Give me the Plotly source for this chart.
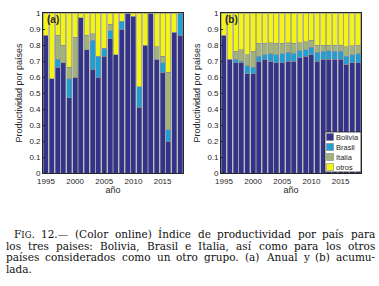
import glob
import os
import struct
import plotly.graph_objects as go

years = list(range(1995, 2019))

# (a) Anual
a_bolivia = [0.86, 0.59, 0.66, 0.69, 0.47, 0.60, 0.97, 0.77, 0.65, 0.60, 0.73, 0.84,
             0.74, 0.90, 1.00, 0.98, 0.41, 0.80, 1.00, 0.71, 0.63, 0.20, 0.88, 0.86]
a_brasil = [0.00, 0.00, 0.05, 0.00, 0.12, 0.00, 0.00, 0.00, 0.18, 0.13, 0.05, 0.05,
            0.00, 0.05, 0.00, 0.00, 0.13, 0.00, 0.00, 0.00, 0.06, 0.07, 0.00, 0.14]
a_italia = [0.00, 0.00, 0.15, 0.11, 0.07, 0.25, 0.00, 0.09, 0.04, 0.00, 0.00, 0.04,
            0.00, 0.00, 0.00, 0.00, 0.00, 0.00, 0.00, 0.08, 0.04, 0.36, 0.00, 0.00]
a_otros = [0.14, 0.41, 0.14, 0.20, 0.34, 0.15, 0.03, 0.14, 0.13, 0.27, 0.22, 0.07,
           0.26, 0.05, 0.00, 0.02, 0.46, 0.20, 0.00, 0.21, 0.27, 0.37, 0.12, 0.00]

# (b) Acumulada
b_bolivia = [0.86, 0.71, 0.69, 0.69, 0.62, 0.62, 0.70, 0.71, 0.70, 0.69, 0.69, 0.70,
             0.70, 0.72, 0.73, 0.74, 0.70, 0.71, 0.71, 0.71, 0.71, 0.68, 0.69, 0.69]
b_brasil = [0.00, 0.00, 0.02, 0.01, 0.05, 0.04, 0.03, 0.03, 0.045, 0.05, 0.055, 0.055,
            0.05, 0.045, 0.04, 0.045, 0.055, 0.05, 0.055, 0.05, 0.05, 0.05, 0.05, 0.055]
b_italia = [0.00, 0.00, 0.05, 0.07, 0.07, 0.10, 0.08, 0.07, 0.07, 0.07, 0.065, 0.06,
            0.06, 0.05, 0.05, 0.045, 0.045, 0.04, 0.035, 0.04, 0.04, 0.06, 0.055, 0.055]
b_otros = [round(1 - x - y - z, 3) for x, y, z in zip(b_bolivia, b_brasil, b_italia)]

series_names = ["Bolivia", "Brasil", "Italia", "otros"]
colors = ["#33338c", "#1e9fd6", "#a1b378", "#f4f414"]

y_ticks = [0, 0.1, 0.2, 0.3, 0.4, 0.5, 0.6, 0.7, 0.8, 0.9, 1]
y_tick_labels = ["0", "0.1", "0.2", "0.3", "0.4", "0.5", "0.6", "0.7", "0.8", "0.9", "1"]
x_ticks = [1995, 2000, 2005, 2010, 2015]

caption_lines = [
    "FIG. 12.— (Color online) Índice de productividad por país para",
    "los tres paises: Bolivia, Brasil e Italia, así como para los otros",
    "países considerados como un otro grupo. (a) Anual y (b) acumu-",
    "lada.",
]

W, H = 379, 286
def px_x(p): return p / W
def px_y(p): return (H - p) / H

CAP_FONT = "DejaVu Serif"
CAP_SIZE = 10.5
SC_SIZE = 8.5


# ---- text width measurement from the installed font file (for justification)
def make_measure():
    paths = glob.glob("/usr/share/fonts/**/DejaVuSerif.ttf", recursive=True)
    paths += glob.glob("/usr/local/share/fonts/**/DejaVuSerif.ttf", recursive=True)
    paths = [p for p in paths if os.path.exists(p)]
    try:
        data = open(paths[0], "rb").read()
        ntab = struct.unpack(">H", data[4:6])[0]
        tabs = {}
        for i in range(ntab):
            tag, _, off, ln = struct.unpack(">4sIII", data[12 + 16 * i:28 + 16 * i])
            tabs[tag.decode("latin1")] = off
        upm = struct.unpack(">H", data[tabs["head"] + 18:tabs["head"] + 20])[0]
        nhm = struct.unpack(">H", data[tabs["hhea"] + 34:tabs["hhea"] + 36])[0]
        hm = tabs["hmtx"]
        adv = [struct.unpack(">H", data[hm + 4 * i:hm + 4 * i + 2])[0] for i in range(nhm)]
        cm = tabs["cmap"]
        nsub = struct.unpack(">H", data[cm + 2:cm + 4])[0]
        so = None
        for i in range(nsub):
            pid, eid, off = struct.unpack(">HHI", data[cm + 4 + 8 * i:cm + 12 + 8 * i])
            if struct.unpack(">H", data[cm + off:cm + off + 2])[0] == 4 and (pid == 3 or so is None):
                so = cm + off
        seg2 = struct.unpack(">H", data[so + 6:so + 8])[0]
        seg = seg2 // 2
        ends = struct.unpack(">%dH" % seg, data[so + 14:so + 14 + seg2])
        st_o = so + 16 + seg2
        starts = struct.unpack(">%dH" % seg, data[st_o:st_o + seg2])
        de_o = st_o + seg2
        deltas = struct.unpack(">%dh" % seg, data[de_o:de_o + seg2])
        ro_o = de_o + seg2
        ros = struct.unpack(">%dH" % seg, data[ro_o:ro_o + seg2])

        def gid(c):
            for i in range(seg):
                if ends[i] >= c:
                    if starts[i] > c:
                        return 0
                    if ros[i] == 0:
                        return (c + deltas[i]) & 0xFFFF
                    a = ro_o + 2 * i + ros[i] + 2 * (c - starts[i])
                    g = struct.unpack(">H", data[a:a + 2])[0]
                    return (g + deltas[i]) & 0xFFFF if g else 0
            return 0

        def measure(s, size):
            return sum(adv[min(gid(ord(ch)), nhm - 1)] for ch in s) * size / upm
        measure("a", 10)
        return measure
    except Exception:
        return lambda s, size: len(s) * 0.58 * size


measure = make_measure()


def word_markup(w):
    if w == "FIG.":
        return "F<span style='font-size:%spx'>IG</span>." % SC_SIZE, \
            measure("F", CAP_SIZE) + measure("IG", SC_SIZE) + measure(".", CAP_SIZE)
    return w, measure(w, CAP_SIZE)


fig = go.Figure()
panels = [("x", "y", [a_bolivia, a_brasil, a_italia, a_otros]),
          ("x2", "y2", [b_bolivia, b_brasil, b_italia, b_otros])]
for xa, ya, data in panels:
    for name, vals, col in zip(series_names, data, colors):
        fig.add_trace(go.Bar(x=years, y=vals, name=name, xaxis=xa, yaxis=ya,
                             marker=dict(color=col, line=dict(color="#909090", width=0.6)),
                             showlegend=False))

dark = "#262626"
sans = "Liberation Sans, Arial"
tickfont = dict(family=sans, size=8, color=dark)
axis_common = dict(showline=True, linecolor=dark, linewidth=0.8, mirror=True,
                   ticks="inside", ticklen=2, tickcolor=dark, showgrid=False,
                   zeroline=False, tickfont=tickfont, automargin=False)
title_font = dict(family=sans, size=9, color=dark)

fig.update_layout(
    width=W, height=H, margin=dict(l=0, r=0, t=0, b=0, autoexpand=False),
    paper_bgcolor="white", plot_bgcolor="white",
    barmode="stack", bargap=0.14, showlegend=False,
    xaxis=dict(domain=[px_x(43), px_x(183)], range=[1994.5, 2018.5], tickvals=x_ticks,
               title=dict(text="año", font=title_font, standoff=2), **axis_common),
    yaxis=dict(domain=[px_y(173), px_y(13)], range=[0, 1], tickvals=y_ticks, ticktext=y_tick_labels,
               title=dict(text="Productividad por países", font=title_font, standoff=5), **axis_common),
    xaxis2=dict(domain=[px_x(221), px_x(361)], range=[1994.5, 2018.5], tickvals=x_ticks, anchor="y2",
                title=dict(text="año", font=title_font, standoff=2), **axis_common),
    yaxis2=dict(domain=[px_y(173), px_y(13)], range=[0, 1], tickvals=y_ticks, ticktext=y_tick_labels, anchor="x2",
                title=dict(text="Productividad por países", font=title_font, standoff=5), **axis_common),
)

# legend box (panel b)
fig.add_shape(type="rect", xref="paper", yref="paper",
              x0=px_x(325), x1=px_x(361), y0=px_y(172), y1=px_y(132),
              fillcolor="white", line=dict(color=dark, width=0.8), layer="above")
leg_y = [137, 147, 157, 167]
for name, col, yy in zip(series_names, colors, leg_y):
    fig.add_shape(type="rect", xref="paper", yref="paper",
                  x0=px_x(326.5), x1=px_x(333.5), y0=px_y(yy + 3.5), y1=px_y(yy - 3.5),
                  fillcolor=col, line=dict(color="#707070", width=0.5), layer="above")
    fig.add_annotation(text=name, xref="paper", yref="paper", x=px_x(335), y=px_y(yy),
                       xanchor="left", yanchor="middle", showarrow=False, borderpad=0,
                       font=dict(family=sans, size=7.5, color=dark))

fig.add_annotation(text="<b>(a)</b>", xref="paper", yref="paper", x=px_x(45), y=px_y(19),
                   xanchor="left", yanchor="middle", showarrow=False,
                   font=dict(family=sans, size=10, color=dark))
fig.add_annotation(text="<b>(b)</b>", xref="paper", yref="paper", x=px_x(223), y=px_y(19),
                   xanchor="left", yanchor="middle", showarrow=False,
                   font=dict(family=sans, size=10, color=dark))

# caption, justified word by word
left_starts = [13, 5, 5, 5]
right_edge = 374
line_y = [233.6, 246.2, 257.4, 268.6]
space_w = measure(" ", CAP_SIZE)
for li, (line, sx, yy) in enumerate(zip(caption_lines, left_starts, line_y)):
    words = [word_markup(w) for w in line.split(" ")]
    total = sum(w for _, w in words)
    last = li == len(caption_lines) - 1
    gap = space_w if (last or len(words) < 2) else (right_edge - sx - total) / (len(words) - 1)
    x = sx
    for txt, w in words:
        fig.add_annotation(text=txt, xref="paper", yref="paper", x=px_x(x), y=px_y(yy),
                           xanchor="left", yanchor="middle", showarrow=False, borderpad=0,
                           font=dict(family=CAP_FONT, size=CAP_SIZE, color="#111111"))
        x += w + gap

fig.write_html("out.html", config={"displayModeBar": False},
               post_script="document.body.style.margin='0';")
